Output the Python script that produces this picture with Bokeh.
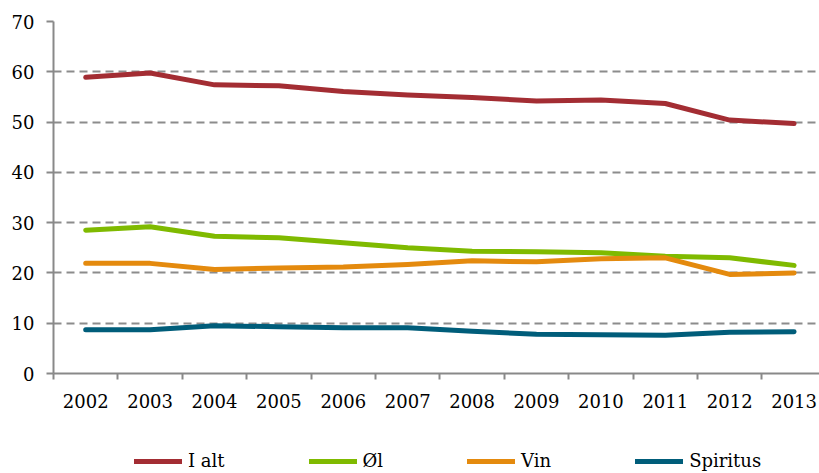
from bokeh.plotting import figure
from bokeh.models import Range1d, FixedTicker, Legend, LegendItem
from bokeh.layouts import column
from bokeh.embed import file_html
from bokeh.resources import INLINE

years = ["2002", "2003", "2004", "2005", "2006", "2007", "2008", "2009", "2010", "2011", "2012", "2013"]
i_alt = [58.9, 59.75, 57.4, 57.2, 56.1, 55.4, 54.9, 54.2, 54.4, 53.7, 50.4, 49.7]
ol = [28.5, 29.2, 27.3, 27.0, 26.0, 25.0, 24.3, 24.2, 24.0, 23.3, 23.0, 21.5]
vin = [21.9, 21.9, 20.7, 21.0, 21.2, 21.7, 22.4, 22.2, 22.8, 23.0, 19.7, 20.0]
spiritus = [8.7, 8.7, 9.5, 9.3, 9.1, 9.1, 8.4, 7.8, 7.7, 7.6, 8.2, 8.3]
series_names = ["I alt", "Øl", "Vin", "Spiritus"]
colors = ["#A32D33", "#7FBA00", "#E48A0E", "#005D7A"]
y_ticks = [0, 10, 20, 30, 40, 50, 60, 70]

FONT = "DejaVu Serif"
x = [i + 0.5 for i in range(len(years))]
all_series = [i_alt, ol, vin, spiritus]

p = figure(width=819, height=425, output_backend="svg", toolbar_location=None,
           x_range=Range1d(0, 766 / 64.4), y_range=Range1d(0, 70),
           min_border_left=53, min_border_right=0, min_border_top=21, min_border_bottom=52)
p.outline_line_color = None
p.background_fill_color = "white"

for vals, c in zip(all_series, colors):
    p.line(x, vals, line_color=c, line_width=5, line_cap="round", line_join="round")

# x axis: labels at category centres, tick marks at boundaries (minor ticks)
p.xaxis.ticker = FixedTicker(ticks=x, minor_ticks=list(range(0, len(years) + 1)))
p.xaxis.major_label_overrides = {xx: y for xx, y in zip(x, years)}
p.xaxis.major_tick_line_color = None
p.xaxis.major_tick_out = 0
p.xaxis.major_tick_in = 0
p.xaxis.minor_tick_line_color = "#898989"
p.xaxis.minor_tick_line_width = 2
p.xaxis.minor_tick_out = 6
p.xaxis.minor_tick_in = 0
p.xaxis.axis_line_color = "#898989"
p.xaxis.axis_line_width = 2
p.xaxis.major_label_standoff = 14
p.xaxis.major_label_text_font = FONT
p.xaxis.major_label_text_font_size = "18px"
p.xaxis.major_label_text_color = "#000000"

p.yaxis.ticker = FixedTicker(ticks=y_ticks)
p.yaxis.minor_tick_line_color = None
p.yaxis.major_tick_line_color = "#898989"
p.yaxis.major_tick_line_width = 2
p.yaxis.major_tick_out = 7
p.yaxis.major_tick_in = 0
p.yaxis.axis_line_color = "#898989"
p.yaxis.axis_line_width = 2
p.yaxis.major_label_standoff = 12
p.yaxis.major_label_text_font = FONT
p.yaxis.major_label_text_font_size = "18px"
p.yaxis.major_label_text_color = "#000000"

p.xgrid.grid_line_color = None
p.ygrid.ticker = FixedTicker(ticks=y_ticks[1:])
p.ygrid.grid_line_color = "#8C8C8C"
p.ygrid.grid_line_width = 2
p.ygrid.grid_line_dash = "8 5"

# legend strip below the chart (series drawn out of view, used only for legend glyphs)
lg = figure(width=819, height=48, output_backend="svg", toolbar_location=None,
            x_range=Range1d(0, 1), y_range=Range1d(0, 1),
            x_axis_location=None, y_axis_location=None,
            min_border_left=0, min_border_right=0, min_border_top=0, min_border_bottom=0)
lg.outline_line_color = None
lg.xgrid.visible = False
lg.ygrid.visible = False
proxies = [lg.line(x, vals, line_color=c, line_width=5, line_cap="round")
           for vals, c in zip(all_series, colors)]
legend = Legend(items=[LegendItem(label=n, renderers=[r]) for n, r in zip(series_names, proxies)],
                orientation="horizontal", location=(81, 2),
                padding=0, margin=0, spacing=84, label_standoff=6,
                glyph_width=48, glyph_height=20, label_height=20,
                border_line_color=None, background_fill_alpha=0,
                label_text_font=FONT, label_text_font_size="18px", label_text_color="#000000")
lg.add_layout(legend, "center")

layout = column(p, lg, spacing=0)
open("out.html", "w").write(file_html(layout, INLINE))
